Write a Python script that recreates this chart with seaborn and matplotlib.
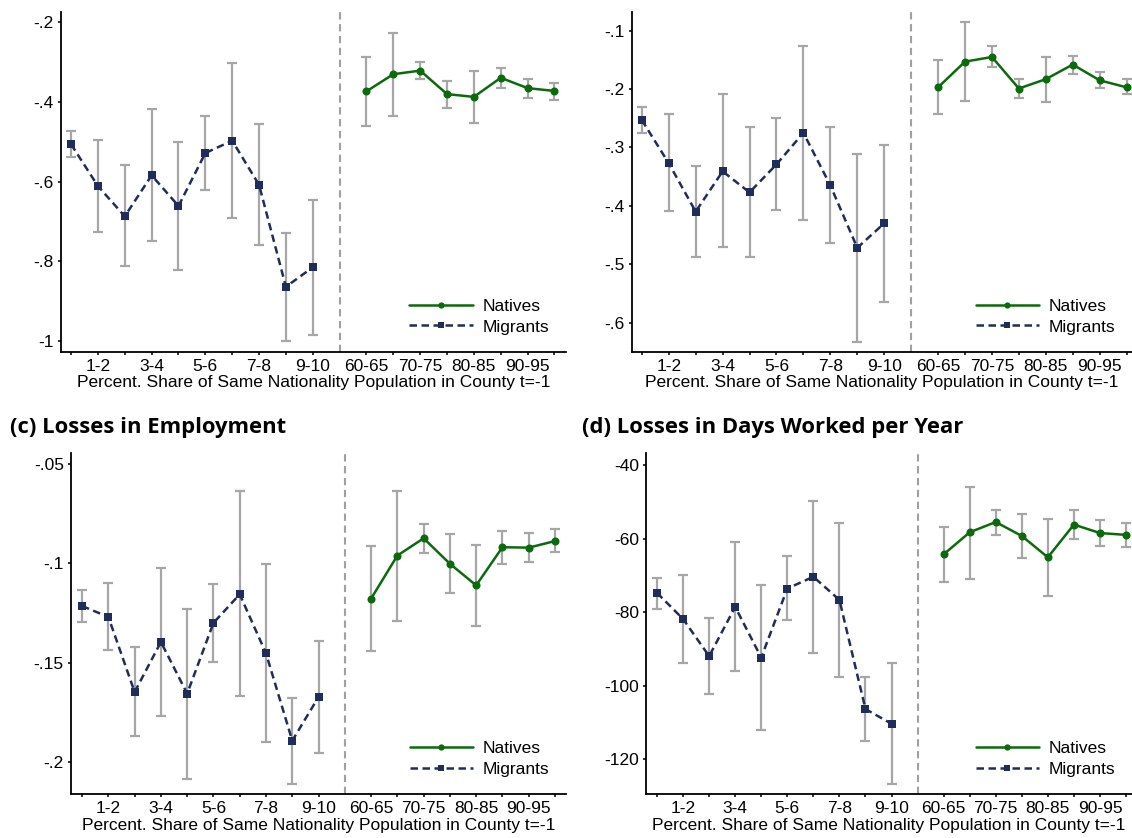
import numpy as np
import pandas as pd
import matplotlib
matplotlib.use("Agg")
import matplotlib.pyplot as plt
from matplotlib.lines import Line2D
import seaborn as sns

# ---------------- data ----------------
mig_cats = ["0-1", "1-2", "2-3", "3-4", "4-5", "5-6", "6-7", "7-8", "8-9", "9-10"]
nat_cats = ["60-65", "65-70", "70-75", "75-80", "80-85", "85-90", "90-95", "95-100"]
mig_pos = [0, 1, 2, 3, 4, 5, 6, 7, 8, 9]
nat_pos = [11, 12, 13, 14, 15, 16, 17, 18]
tick_labels = ["", "1-2", "", "3-4", "", "5-6", "", "7-8", "", "9-10",
               "60-65", "", "70-75", "", "80-85", "", "90-95", ""]

# (a)
a_mig = [-0.506, -0.611, -0.687, -0.584, -0.661, -0.528, -0.497, -0.608, -0.864, -0.815]
a_mig_lo = [-0.538, -0.726, -0.811, -0.748, -0.821, -0.620, -0.690, -0.759, -1.001, -0.984]
a_mig_hi = [-0.472, -0.495, -0.558, -0.417, -0.501, -0.434, -0.302, -0.455, -0.728, -0.645]
a_nat = [-0.373, -0.330, -0.321, -0.380, -0.387, -0.339, -0.365, -0.372]
a_nat_lo = [-0.460, -0.434, -0.343, -0.414, -0.452, -0.364, -0.389, -0.394]
a_nat_hi = [-0.288, -0.227, -0.299, -0.347, -0.322, -0.314, -0.342, -0.351]

# (b)
b_mig = [-0.253, -0.327, -0.410, -0.341, -0.377, -0.329, -0.275, -0.365, -0.472, -0.430]
b_mig_lo = [-0.276, -0.409, -0.488, -0.471, -0.488, -0.407, -0.425, -0.463, -0.633, -0.565]
b_mig_hi = [-0.231, -0.243, -0.332, -0.209, -0.265, -0.250, -0.126, -0.265, -0.311, -0.295]
b_nat = [-0.197, -0.153, -0.145, -0.199, -0.183, -0.158, -0.185, -0.197]
b_nat_lo = [-0.243, -0.221, -0.163, -0.215, -0.222, -0.174, -0.198, -0.209]
b_nat_hi = [-0.151, -0.085, -0.126, -0.183, -0.145, -0.143, -0.171, -0.183]

# (c) Losses in Employment
c_mig = [-0.1215, -0.1270, -0.1648, -0.1396, -0.1656, -0.1300, -0.1156, -0.1453, -0.1893, -0.1673]
c_mig_lo = [-0.1297, -0.1438, -0.1869, -0.1767, -0.2084, -0.1497, -0.1666, -0.1901, -0.2111, -0.1953]
c_mig_hi = [-0.1133, -0.1100, -0.1423, -0.1023, -0.1228, -0.1104, -0.0638, -0.1002, -0.1676, -0.1391]
c_nat = [-0.1178, -0.0961, -0.0874, -0.1002, -0.1111, -0.0919, -0.0921, -0.0888]
c_nat_lo = [-0.1441, -0.1290, -0.0948, -0.1148, -0.1317, -0.1002, -0.0995, -0.0945]
c_nat_hi = [-0.0913, -0.0634, -0.0800, -0.0854, -0.0906, -0.0839, -0.0847, -0.0827]

# (d) Losses in Days Worked per Year
d_mig = [-74.8, -81.9, -92.0, -78.6, -92.4, -73.6, -70.4, -76.7, -106.4, -110.4]
d_mig_lo = [-79.1, -93.9, -102.2, -96.1, -112.0, -82.2, -91.2, -97.7, -115.1, -126.8]
d_mig_hi = [-70.7, -69.9, -81.6, -61.0, -72.7, -64.7, -49.9, -55.9, -97.8, -93.9]
d_nat = [-64.3, -58.3, -55.5, -59.3, -65.1, -56.2, -58.5, -59.0]
d_nat_lo = [-71.7, -70.9, -59.0, -65.2, -75.6, -60.2, -62.0, -62.2]
d_nat_hi = [-56.9, -45.9, -52.1, -53.3, -54.6, -52.3, -54.9, -55.9]

titles = {"c": "(c) Losses in Employment", "d": "(d) Losses in Days Worked per Year"}

# ---------------- style ----------------
sns.set_style("ticks")
plt.rcParams["font.family"] = ["Liberation Sans", "DejaVu Sans"]
plt.rcParams["text.color"] = "black"
plt.rcParams["axes.labelcolor"] = "black"
plt.rcParams["xtick.color"] = "black"
plt.rcParams["ytick.color"] = "black"

GREEN = "#0b6a0b"
NAVY = "#1f2d58"
GREY = "#a6a6a6"
FS = 12.5

W, H = 1132, 838
fig = plt.figure(figsize=(W / 100, H / 100), dpi=100)


def px_axes(left, top, right, bottom):
    return fig.add_axes([left / W, 1 - bottom / H, (right - left) / W, (bottom - top) / H])


panels = [
    dict(box=(60.6, 11.7, 566, 351.7), xlim=(-0.39, 18.43), ylim=(-1.027, -0.173),
         yt=[-1, -0.8, -0.6, -0.4, -0.2], ytl=["-1", "-.8", "-.6", "-.4", "-.2"],
         m=(a_mig, a_mig_lo, a_mig_hi), n=(a_nat, a_nat_lo, a_nat_hi)),
    dict(box=(631.7, 11.7, 1132, 351.7), xlim=(-0.375, 18.2), ylim=(-0.650, -0.0674),
         yt=[-0.6, -0.5, -0.4, -0.3, -0.2, -0.1], ytl=["-.6", "-.5", "-.4", "-.3", "-.2", "-.1"],
         m=(b_mig, b_mig_lo, b_mig_hi), n=(b_nat, b_nat_lo, b_nat_hi)),
    dict(box=(70.8, 453.3, 566, 794.3), xlim=(-0.43, 18.42), ylim=(-0.2163, -0.0446),
         yt=[-0.2, -0.15, -0.1, -0.05], ytl=["-.2", "-.15", "-.1", "-.05"],
         m=(c_mig, c_mig_lo, c_mig_hi), n=(c_nat, c_nat_lo, c_nat_hi)),
    dict(box=(646.1, 453.3, 1132, 794.3), xlim=(-0.42, 18.23), ylim=(-129.6, -36.8),
         yt=[-120, -100, -80, -60, -40], ytl=["-120", "-100", "-80", "-60", "-40"],
         m=(d_mig, d_mig_lo, d_mig_hi), n=(d_nat, d_nat_lo, d_nat_hi)),
]

tick_pos = mig_pos + nat_pos
tick_lab = [tick_labels[i] for i in range(len(mig_pos))] + \
           [tick_labels[10 + i] for i in range(len(nat_pos))]

for p in panels:
    ax = px_axes(*p["box"])
    mv, mlo, mhi = [np.array(v) for v in p["m"]]
    nv, nlo, nhi = [np.array(v) for v in p["n"]]

    ax.axvline(10, color="#a0a0a0", lw=1.5, ls=(0, (3.5, 2.2)), zorder=1)
    ax.errorbar(mig_pos, mv, yerr=[mv - mlo, mhi - mv], fmt="none", ecolor=GREY,
                elinewidth=1.6, capsize=3.3, capthick=1.6, zorder=2)
    ax.errorbar(nat_pos, nv, yerr=[nv - nlo, nhi - nv], fmt="none", ecolor=GREY,
                elinewidth=1.6, capsize=3.3, capthick=1.6, zorder=2)

    df = pd.DataFrame({
        "x": mig_pos + nat_pos,
        "y": list(mv) + list(nv),
        "group": ["Migrants"] * len(mig_pos) + ["Natives"] * len(nat_pos),
    })
    sns.lineplot(data=df, x="x", y="y", hue="group", style="group",
                 palette={"Natives": GREEN, "Migrants": NAVY},
                 dashes={"Natives": "", "Migrants": (3, 1.8)},
                 markers={"Natives": "o", "Migrants": "s"},
                 markersize=5.8, markeredgewidth=0, linewidth=1.8,
                 ax=ax, legend=False, zorder=3)

    ax.set_xlim(*p["xlim"])
    ax.set_ylim(*p["ylim"])
    ax.set_xticks(tick_pos)
    ax.set_xticklabels(tick_lab)
    ax.set_yticks(p["yt"])
    ax.set_yticklabels(p["ytl"])
    ax.tick_params(axis="both", direction="out", length=2, width=1.3, color="#222222",
                   labelsize=FS, pad=3, labelcolor="black")
    for s in ["top", "right"]:
        ax.spines[s].set_visible(False)
    for s in ["left", "bottom"]:
        ax.spines[s].set_linewidth(1.3)
        ax.spines[s].set_color("black")
    ax.set_xlabel("Percent. Share of Same Nationality Population in County t=-1",
                  fontsize=FS, labelpad=1, color="black")
    ax.set_ylabel("")

    handles = [
        Line2D([], [], color=GREEN, lw=1.8, marker="o", markersize=4.5, markeredgewidth=0),
        Line2D([], [], color=NAVY, lw=1.8, ls=(0, (3, 1.8)), marker="s", markersize=5, markeredgewidth=0),
    ]
    ax.legend(handles, ["Natives", "Migrants"], loc="lower right", frameon=False,
              fontsize=FS, handlelength=3.65, handletextpad=0.55, labelspacing=0.32,
              borderaxespad=0.0, bbox_to_anchor=(0.98, 0.03), numpoints=1)

for key, x0 in (("c", 10), ("d", 582)):
    fig.text(x0 / W, 1 - 433 / H, titles[key], fontsize=15.8, fontweight="bold",
             family=["Open Sans", "DejaVu Sans"], va="baseline", ha="left", color="black")

fig.savefig("out.png", dpi=100)
